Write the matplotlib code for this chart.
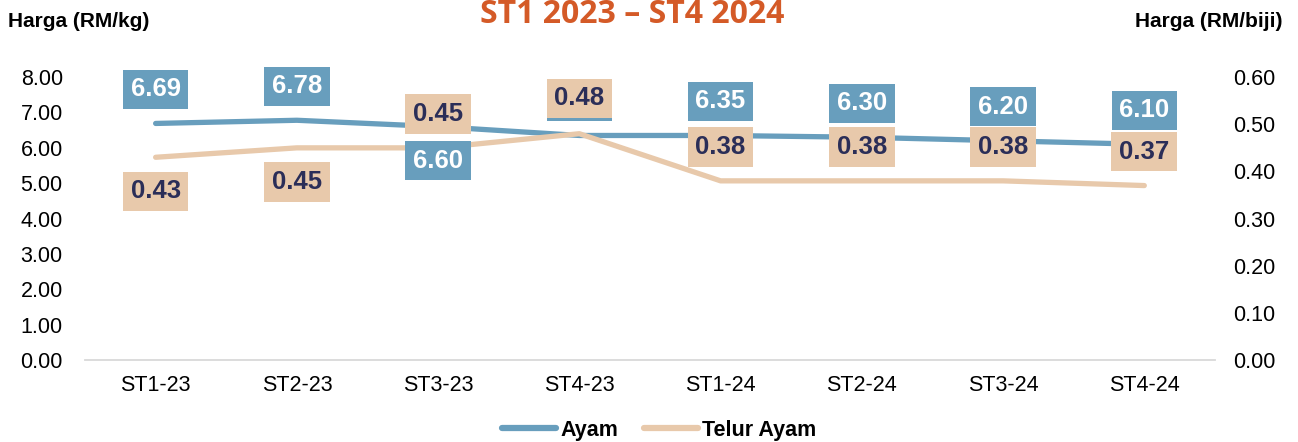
import matplotlib
matplotlib.use("Agg")
from matplotlib import pyplot as plt

plt.rcParams["font.family"] = ["Liberation Sans", "DejaVu Sans"]

quarters = ["ST1-23", "ST2-23", "ST3-23", "ST4-23", "ST1-24", "ST2-24", "ST3-24", "ST4-24"]
ayam = [6.69, 6.78, 6.60, 6.35, 6.35, 6.30, 6.20, 6.10]
telur = [0.43, 0.45, 0.45, 0.48, 0.38, 0.38, 0.38, 0.37]
# label placement: +1 above the line, -1 below
ayam_side = [1, 1, -1, 1, 1, 1, 1, 1]
telur_side = [-1, -1, 1, 1, 1, 1, 1, 1]

BLUE = "#689EBD"
TAN = "#E8C9AB"
NAVY = "#2B2E58"
TITLE = "#D45A27"

fig = plt.figure(figsize=(12.98, 4.42), dpi=100)
ax = fig.add_axes([0.0655, 0.1855, 0.8705, 0.640])
ax2 = ax.twinx()

x = list(range(len(quarters)))
ax.plot(x, ayam, color=BLUE, lw=3.8, solid_capstyle="round", label="Ayam")
ax2.plot(x, telur, color=TAN, lw=3.8, solid_capstyle="round", label="Telur Ayam")

ax.set_xlim(-0.5, len(quarters) - 0.5)
ax.set_ylim(0, 8)
ax2.set_ylim(0, 0.6)
ax.set_yticks([i for i in range(9)])
ax.set_yticklabels([f"{i:.2f}" for i in range(9)])
ax2.set_yticks([i / 10 for i in range(7)])
ax2.set_yticklabels([f"{i / 10:.2f}" for i in range(7)])
ax.set_xticks(x)
ax.set_xticklabels(quarters)

for a in (ax, ax2):
    for s in a.spines.values():
        s.set_visible(False)
ax.spines["bottom"].set_visible(True)
ax.spines["bottom"].set_color("#D9D9D9")
ax.spines["bottom"].set_linewidth(1.3)
ax.tick_params(axis="y", length=0, labelsize=15.5, pad=16)
ax.tick_params(axis="x", length=0, labelsize=15.5, pad=11)
ax2.tick_params(axis="y", length=0, labelsize=15.5, pad=13)

# data labels, drawn on the top axes so the boxes cover both lines
for i, v in enumerate(ayam):
    ax2.annotate(f"{v:.2f}", (i, v), xycoords=ax.transData,
                 xytext=(0, 24.5 * ayam_side[i]), textcoords="offset points",
                 ha="center", va="center", fontsize=18.5, fontweight="bold", color="white",
                 bbox=dict(boxstyle="square,pad=0.3", fc=BLUE, ec="none"), zorder=5)
for i, v in enumerate(telur):
    ax2.annotate(f"{v:.2f}", (i, v), xycoords=ax2.transData,
                 xytext=(0, 24.5 * telur_side[i] + (1 if i == 3 else 0)), textcoords="offset points",
                 ha="center", va="center", fontsize=18.5, fontweight="bold", color=NAVY,
                 bbox=dict(boxstyle="square,pad=0.3", fc=TAN, ec="none"), zorder=6)

fig.text(0.487, 0.949, "ST1 2023 – ST4 2024", ha="center", va="baseline",
         fontsize=23, fontweight="bold", color=TITLE, family=["Open Sans", "DejaVu Sans"])
fig.text(0.006, 0.952, "Harga (RM/kg)", ha="left", va="center", fontsize=15, fontweight="bold")
fig.text(0.988, 0.952, "Harga (RM/biji)", ha="right", va="center", fontsize=15, fontweight="bold")

h1, l1 = ax.get_legend_handles_labels()
h2, l2 = ax2.get_legend_handles_labels()
leg = fig.legend(h1 + h2, l1 + l2, loc="center", bbox_to_anchor=(0.508, 0.027), ncol=2,
                 frameon=False, handlelength=2.5, handletextpad=0.2, columnspacing=1.2,
                 prop={"size": 15.5, "weight": "bold"})
for line in leg.get_lines():
    line.set_linewidth(4.5)

fig.savefig("out.png", dpi=100)
